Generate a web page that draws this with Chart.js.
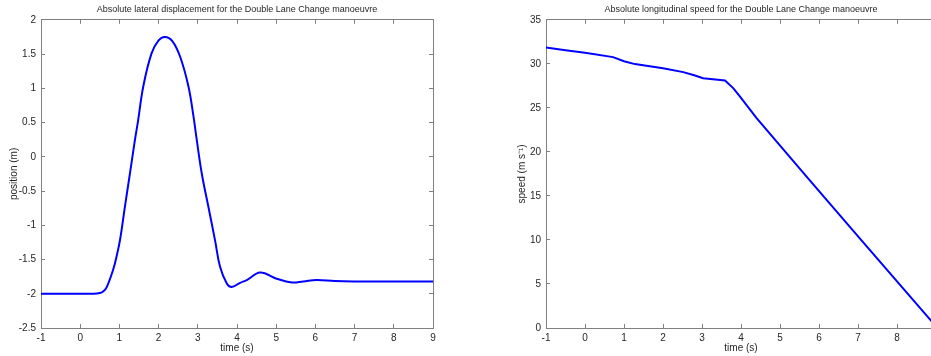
<!DOCTYPE html>
<html>
<head>
<meta charset="utf-8">
<script src="https://cdn.jsdelivr.net/npm/chart.js@4/dist/chart.umd.min.js"></script>
<style>
  html, body { margin: 0; padding: 0; background: #fff; overflow: hidden; }
  body { width: 931px; height: 356px; position: relative; }
  .plot { position: absolute; top: 0; height: 356px; }
  #lat-wrap { left: 0; width: 474px; }
  #speed-wrap { left: 474px; width: 534px; }
</style>
</head>
<body>
<div class="plot" id="lat-wrap"><canvas id="lat-chart"></canvas></div>
<div class="plot" id="speed-wrap"><canvas id="speed-chart"></canvas></div>
<script>
// lateral displacement (m) vs time (s)
const latTime = [-1, -0.5, 0, 0.3, 0.5, 0.6, 0.68, 0.84, 0.93, 1.02, 1.14, 1.27, 1.40, 1.48, 1.61, 1.82, 2.0, 2.16, 2.35, 2.55, 2.76, 2.89, 2.97, 3.10, 3.27, 3.44, 3.57, 3.74, 3.86, 4.08, 4.25, 4.59, 5.01, 5.40, 5.69, 6.03, 6.5, 7, 8, 9];
const latPos = [-2.0, -2.0, -2.0, -2.0, -1.99, -1.96, -1.90, -1.65, -1.45, -1.20, -0.73, -0.24, 0.26, 0.54, 1.03, 1.51, 1.70, 1.75, 1.69, 1.46, 1.03, 0.59, 0.26, -0.24, -0.73, -1.22, -1.61, -1.85, -1.90, -1.84, -1.80, -1.69, -1.78, -1.835, -1.82, -1.80, -1.815, -1.82, -1.82, -1.82];

// longitudinal speed (m/s) vs time (s)
const speedTime = [-1, -0.5, 0, 0.72, 1.0, 1.28, 2.0, 2.52, 2.8, 3.03, 3.59, 3.80, 3.97, 4.40, 5.72, 7.04, 8.9];
const speedVal = [31.85, 31.55, 31.25, 30.76, 30.3, 29.97, 29.5, 29.06, 28.7, 28.37, 28.1, 27.24, 26.3, 23.83, 17.0, 10.2, 0.7];

const latTicks = { min: -2.5, max: 2, step: 0.5 };
const speedTicks = { min: 0, max: 35, step: 5 };
const timeTicks = { min: -1, max: 9, step: 1 };

const FONT = "'Liberation Sans', Arial, sans-serif";
const AXIS = "#808080";
const TEXT = "#262626";

// pairs two arrays into {x, y} points
const toPoints = (xs, ys) => xs.map((x, i) => ({ x, y: ys[i] }));

// matlab style tick text: 2 not 2.0
const plainTick = (v) => String(+v.toFixed(3));

// builds one matlab-like panel; sizes are in px
const makePanel = (id, title, yTitle, xs, ys, yt, sizes) => {
  const grid = { drawOnChartArea: false, drawTicks: true, tickLength: -4, color: AXIS };
  const border = { display: true, color: AXIS, width: 1 };
  const fit = (v, key) => (s) => { s[key] = v; };

  return new Chart(document.getElementById(id), {
    type: "line",
    data: {
      datasets: [{
        data: toPoints(xs, ys),
        borderColor: "#0000ff",
        borderWidth: 2,
        pointRadius: 0,
        tension: sizes.tension,
      }],
    },
    options: {
      responsive: true,
      maintainAspectRatio: false,
      animation: false,
      layout: { padding: 0 },
      plugins: {
        legend: { display: false },
        tooltip: { enabled: false },
        title: {
          display: true,
          text: title,
          color: TEXT,
          font: { family: FONT, size: 9, weight: "normal", lineHeight: 1.2 },
          padding: { top: 4, bottom: 5 },
        },
      },
      scales: {
        x: {
          type: "linear", position: "bottom",
          min: timeTicks.min, max: timeTicks.max,
          grid, border,
          ticks: { stepSize: timeTicks.step, autoSkip: false, maxRotation: 0, padding: 8, color: TEXT, font: { family: FONT, size: 10 }, callback: plainTick },
          title: { display: true, text: "time (s)", color: TEXT, font: { family: FONT, size: 10, lineHeight: 1.2 }, padding: { top: 0, bottom: 2 } },
          afterFit: fit(28, "height"),
        },
        x2: {
          type: "linear", position: "top",
          min: timeTicks.min, max: timeTicks.max,
          grid, border,
          ticks: { stepSize: timeTicks.step, display: false },
          afterFit: fit(0, "height"),
        },
        y: {
          type: "linear", position: "left",
          min: yt.min, max: yt.max,
          grid, border,
          ticks: { stepSize: yt.step, autoSkip: false, padding: 9, color: TEXT, font: { family: FONT, size: 10 }, callback: plainTick },
          title: { display: true, text: yTitle, color: TEXT, font: { family: FONT, size: 10, lineHeight: 1.2 }, padding: { top: sizes.yTitlePad, bottom: 0 } },
          afterFit: fit(sizes.left, "width"),
        },
        y2: {
          type: "linear", position: "right",
          min: yt.min, max: yt.max,
          grid, border,
          ticks: { stepSize: yt.step, display: false },
          afterFit: fit(sizes.right, "width"),
        },
      },
    },
  });
};

const latChart = makePanel("lat-chart",
  "Absolute lateral displacement for the Double Lane Change manoeuvre",
  "position (m)", latTime, latPos, latTicks,
  { left: 41, right: 41, yTitlePad: 8, tension: 0.4 });

const speedChart = makePanel("speed-chart",
  "Absolute longitudinal speed for the Double Lane Change manoeuvre",
  "speed (m s\u207B\u00B9)", speedTime, speedVal, speedTicks,
  { left: 72, right: 72, yTitlePad: 42, tension: 0 });
</script>
</body>
</html>
